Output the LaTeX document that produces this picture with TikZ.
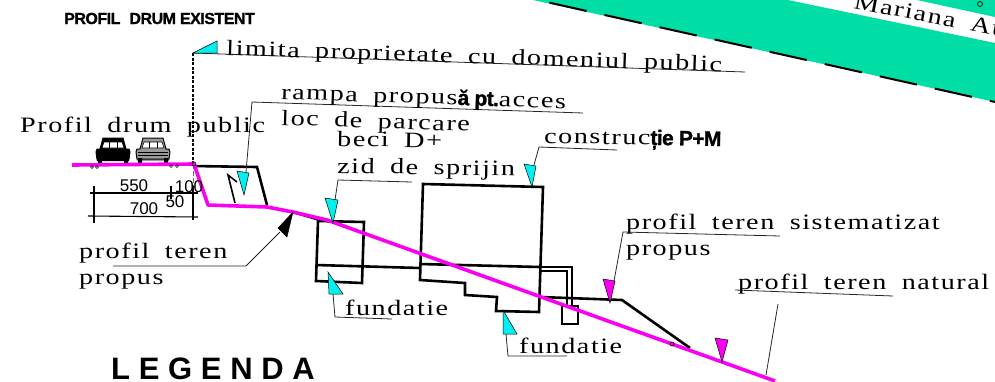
\documentclass[tikz,border=0pt]{standalone}
\usepackage{fontspec}
\setmainfont{Liberation Serif}[FakeStretch=1.28,LetterSpace=7,WordSpace=1.8]
\newfontfamily\boldsans{Liberation Sans}[BoldFeatures={FakeBold=1.2,LetterSpace=-3}]
\newfontfamily\legendfont{Liberation Sans}[BoldFeatures={LetterSpace=28}]
\newfontfamily\dimfont{Liberation Sans}
\definecolor{roadgreen}{RGB}{0,221,165}
\definecolor{wedgecyan}{RGB}{0,240,240}
\definecolor{terrain}{RGB}{250,0,240}
\tikzset{
  lbl/.style={anchor=base west,inner sep=0pt,font=\fontsize{22}{24}\selectfont,rotate=#1},
  lbl/.default=0,
  dim/.style={inner sep=0pt,font=\dimfont\fontsize{17}{18}\selectfont},
  leader/.style={draw=black!85,line width=0.8pt},
  wall/.style={draw=black,line width=2.6pt,line join=miter},
  terrainline/.style={draw=terrain,line width=3.6pt},
  wedgec/.style={fill=wedgecyan,draw=black,line width=0.5pt},
  wedgem/.style={fill=terrain,draw=black,line width=0.5pt},
  pics/car/.style={code={
    \fill[#1] (-16,-12) -- (-13,-12) -- (-10,-23) -- (10,-23) -- (13,-12) -- (16,-12) -- (17,-9)
      -- (16,0) -- (-16,0) -- (-17,-9) -- cycle;
    \draw[black,line width=1pt,line join=round] (-16,-12) -- (-13,-12) -- (-10,-23) -- (10,-23) -- (13,-12)
      -- (16,-12) -- (17,-9) -- (16,-2) -- (-16,-2) -- (-17,-9) -- cycle;
    \fill[white] (-9,-19) -- (9,-19) -- (11,-13) -- (-11,-13) -- cycle;
    \draw[black,line width=0.6pt] (-9,-19) -- (9,-19) -- (11,-13) -- (-11,-13) -- cycle;
    \draw[black,line width=0.7pt] (-4,-19) -- (-4,-13) (4,-19) -- (4,-13);
    \draw[black,line width=0.8pt] (-15,-9) -- (15,-9) (-15,-6) -- (15,-6);
    \fill[black] (-15,-3) rectangle (-11,2) (11,-3) rectangle (15,2);
  }}
}
\begin{document}
\begin{tikzpicture}[x=1pt,y=-1pt]
  \useasboundingbox (0,0) rectangle (995,381);

  % Road strip at the top right
  \fill[roadgreen] (533,0) -- (788,0) -- (995,43) -- (995,102) -- cycle;
  \fill[roadgreen] (917,0) -- (995,17) -- (995,0) -- cycle;
  \draw[line width=2pt,dash pattern=on 38pt off 18.4pt,dash phase=39.5pt] (533,-1) -- (995,102);
  \begin{scope}
    \clip (0,0) rectangle (995,381);
    \node[lbl=-11] (street) at (853,8) {Mariana Aug};
    \draw[line width=0.7pt] (980,4) circle (2.5);
  \end{scope}

  % Title and legend
  \node[anchor=base west,inner sep=0pt,font=\boldsans\bfseries\fontsize{16}{17}\selectfont] (title) at (64,24) {PROFIL\hspace{5pt} DRUM EXISTENT};
  \node[anchor=base west,inner sep=0pt,font=\legendfont\bfseries\fontsize{31}{34}\selectfont] (legend) at (111,379) {LEGENDA};

  % Property limit
  \draw[line width=1.3pt,dashed,dash pattern=on 3pt off 1.5pt] (193,53) -- (193,164);
  \draw[line width=0.7pt,black!55,dash pattern=on 5pt off 2pt] (193,164) -- (193,220);
  \coordinate (limitend) at (745,72);
  \coordinate (limittip) at (193,53);
  \draw[leader] (limittip) -- (limitend);
  \filldraw[wedgec] (limittip) -- (217,41) -- (217,53) -- cycle;
  \node[lbl=-1.9] (limitlabel) at (226,55) {limita proprietate cu domeniul public};

  % Cars
  \pic at (113,161) {car=black};
  \pic at (153,161) {car=black!40};

  % Ramp
  \draw[wall] (193,166) -- (257,167) -- (267,205);
  \draw[black,line width=1.6pt] (235,203) -- (228,175) -- (237,182);

  % Wall and cellar
  \draw[wall] (293,212) -- (320,220);
  \draw[wall] (318,221) -- (364,222) -- (362,283) -- (316,281) -- cycle;
  \draw[wall] (316,265) -- (420,268);

  % Main building
  \draw[wall] (423,184) -- (543,187) -- (539,312) -- (496,311) -- (497,297) -- (465,295)
    -- (465,283) -- (420,280) -- cycle;
  \draw[wall] (420,264) -- (540,267);
  \draw[black,line width=1.6pt] (540,267) -- (572,267) -- (572,306);
  \draw[black,line width=1.6pt] (540,271) -- (567,271) -- (567,306);
  \draw[wall] (540,297) -- (622,300) -- (690,348);
  \draw[wall] (562,306) rectangle (578,324);

  % Terrain
  \draw[terrainline,line join=round] (72,165) -- (194,164) -- (208,205) -- (267,207) -- (293,212)
    -- (327,220) -- (775,381);
  \draw[line width=0.6pt] (92,167) circle (1.5) (97,167) circle (1.5) (171,166) circle (1.5)
    (177,166) circle (1.5) (194,164) circle (2) (672,344) circle (2);

  % Dimensions
  \draw[line width=1.1pt] (90,193) -- (198,193);
  \draw[line width=1.1pt] (88,216) -- (198,217);
  \draw[line width=1.1pt] (94,186) -- (94,223);
  \draw[line width=1.1pt] (171,186) -- (171,199);
  \draw[line width=1.1pt] (193,186) -- (193,220);
  \node[dim] (dimA) at (134,186) {550};
  \node[dim] (dimB) at (189,187) {100};
  \node[dim] (dimC) at (175,202) {50};
  \node[dim] (dimD) at (144,209) {700};

  % Ramp label
  \coordinate (rampknee) at (252,102);
  \coordinate (rampend) at (583,113);
  \coordinate (ramptip) at (246,172);
  \draw[leader] (ramptip) -- (rampknee) -- (rampend);
  \filldraw[wedgec] (237,171) -- (249,173) -- (244,195) -- cycle;
  \node[lbl=-1.9] (ramplabel) at (281,99) {rampa propus{\boldsans\bfseries\fontsize{21}{22}\selectfont ă pt.}acces};
  \node[lbl=-1.9] (parklabel) at (281,125) {loc de parcare};
  \node[lbl] (drumlabel) at (20,132) {Profil drum public};

  % Cellar label
  \coordinate (beciknee) at (338,180);
  \coordinate (beciend) at (412,182);
  \draw[leader] (335,200) -- (beciknee) -- (beciend);
  \filldraw[wedgec] (325,198) -- (338,200) -- (333,223) -- cycle;
  \node[lbl=-1] (becilabel) at (337,146) {beci D+};
  \node[lbl=-1] (zidlabel) at (337,173) {zid de sprijin};

  % Building label
  \coordinate (constrknee) at (539,147);
  \coordinate (constrend) at (617,150);
  \draw[leader] (534,165) -- (constrknee) -- (constrend);
  \filldraw[wedgec] (524,164) -- (536,166) -- (532,187) -- cycle;
  \node[lbl=-1] (constrlabel) at (544,143) {construc{\boldsans\bfseries\fontsize{21}{22}\selectfont ție P+M}};

  % Foundation labels
  \coordinate (fundAknee) at (335,317);
  \coordinate (fundAend) at (392,319);
  \draw[leader] (333,294) -- (fundAknee) -- (fundAend);
  \filldraw[wedgec] (328,272) -- (343,294) -- (329,294) -- cycle;
  \node[lbl] (fundAlabel) at (345,315) {fundatie};
  \coordinate (fundBknee) at (508,356);
  \coordinate (fundBend) at (567,356);
  \draw[leader] (506,334) -- (fundBknee) -- (fundBend);
  \filldraw[wedgec] (503,310) -- (517,334) -- (503,334) -- cycle;
  \node[lbl] (fundBlabel) at (519,353) {fundatie};

  % Proposed terrain label
  \coordinate (propknee) at (246,266);
  \coordinate (propend) at (113,266);
  \draw[leader] (280,232) -- (propknee) -- (propend);
  \filldraw[black] (293,212) -- (287,237) -- (278,228) -- cycle;
  \node[lbl] (proplabel) at (79,258) {profil teren};
  \node[lbl] (propuslabel) at (79,284) {propus};

  % Levelled terrain label
  \coordinate (sistknee) at (623,232);
  \coordinate (sistend) at (780,236);
  \draw[leader] (614,281) -- (sistknee) -- (sistend);
  \filldraw[wedgem] (603,279) -- (615,281) -- (610,303) -- cycle;
  \node[lbl] (sistlabel) at (626,229) {profil teren sistematizat};
  \node[lbl] (sistpropus) at (626,255) {propus};

  % Natural terrain label
  \coordinate (natend) at (778,304);
  \coordinate (natfoot) at (766,375);
  \draw[leader] (natfoot) -- (natend);
  \draw[leader] (735,290) -- (893,296);
  \filldraw[wedgem] (715,338) -- (728,340) -- (722,362) -- cycle;
  \node[lbl] (natlabel) at (738,289) {profil teren natural};
\end{tikzpicture}
\end{document}
